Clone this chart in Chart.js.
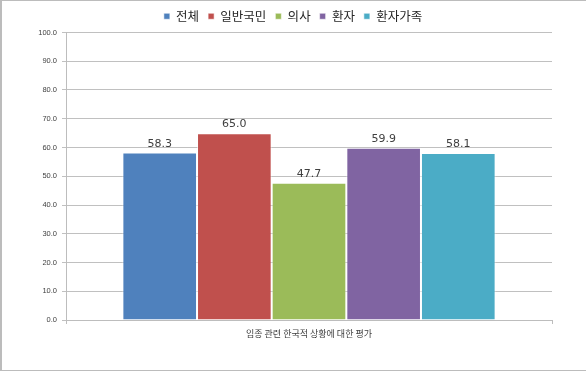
<!DOCTYPE html>
<html><head><meta charset="utf-8">
<script src="https://cdn.jsdelivr.net/npm/chart.js@4"></script>
<style>
html,body{margin:0;padding:0;background:#fff;}
#wrap{position:absolute;left:0;top:0;width:584px;height:369px;border:1px solid #bcbcbc;border-left:2px solid #bcbcbc;background:#fff;}
canvas{position:absolute;left:0;top:0;}
</style></head><body>
<div id="wrap"></div>
<canvas id="c" width="586" height="371" style="width:586px;height:371px"></canvas>
<script>
const categories = ['임종 관련 한국적 상황에 대한 평가'];
const seriesNames = ['전체', '일반국민', '의사', '환자', '환자가족'];
const seriesValues = [[58.3], [65.0], [47.7], [59.9], [58.1]];
const seriesColors = ['#4F81BD', '#C0504D', '#9BBB59', '#8064A2', '#4BACC6'];
const yTicks = [0, 10, 20, 30, 40, 50, 60, 70, 80, 90, 100];

const datasets = seriesNames.map((n, i) => ({
  label: n,
  data: seriesValues[i],
  backgroundColor: seriesColors[i],
  borderColor: 'rgba(255,255,255,0.55)',
  borderWidth: 1,
  categoryPercentage: 0.768,
  barPercentage: 1.0
}));

const valueLabels = {
  id: 'valueLabels',
  afterDatasetsDraw(chart) {
    const ctx = chart.ctx;
    ctx.save();
    ctx.font = '11px "DejaVu Sans", sans-serif';
    ctx.fillStyle = '#404040';
    ctx.textAlign = 'center';
    ctx.textBaseline = 'bottom';
    chart.data.datasets.forEach((ds, i) => {
      chart.getDatasetMeta(i).data.forEach((el, j) => {
        ctx.fillText(ds.data[j].toFixed(1), el.x, el.y - 3);
      });
    });
    ctx.restore();
  }
};

new Chart(document.getElementById('c'), {
  type: 'bar',
  data: { labels: categories, datasets },
  options: {
    responsive: false,
    animation: false,
    layout: { padding: { left: 0, right: 0, top: 1, bottom: 0 } },
    plugins: {
      legend: {
        position: 'top',
        labels: {
          boxWidth: 6, boxHeight: 6, padding: 9,
          color: '#262626',
          font: { family: '"Noto Sans CJK KR", sans-serif', size: 12.5 }
        }
      },
      tooltip: { enabled: false }
    },
    scales: {
      x: {
        grid: { display: true, drawOnChartArea: false, offset: true, color: '#bdbdbd', tickLength: 4 },
        border: { color: '#bdbdbd' },
        ticks: { color: '#404040', font: { family: '"Noto Sans CJK KR", sans-serif', size: 9 }, padding: 4 },
        afterFit(s) { s.height = 51; }
      },
      y: {
        min: 0, max: 100,
        afterBuildTicks(s) { s.ticks = yTicks.map(v => ({ value: v })); },
        grid: { color: '#c0c0c0', tickLength: 4 },
        border: { color: '#bdbdbd' },
        ticks: {
          color: '#404040',
          font: { family: '"Liberation Sans", sans-serif', size: 7.5 },
          padding: 5,
          callback: v => Number(v).toFixed(1)
        },
        afterFit(s) { s.width = 66; }
      },
      spacer: {
        type: 'linear',
        position: 'right',
        min: 0, max: 100,
        grid: { display: false, drawOnChartArea: false },
        border: { display: false },
        ticks: { display: false },
        afterFit(s) { s.width = 34; }
      }
    }
  },
  plugins: [valueLabels]
});
</script>
</body></html>
